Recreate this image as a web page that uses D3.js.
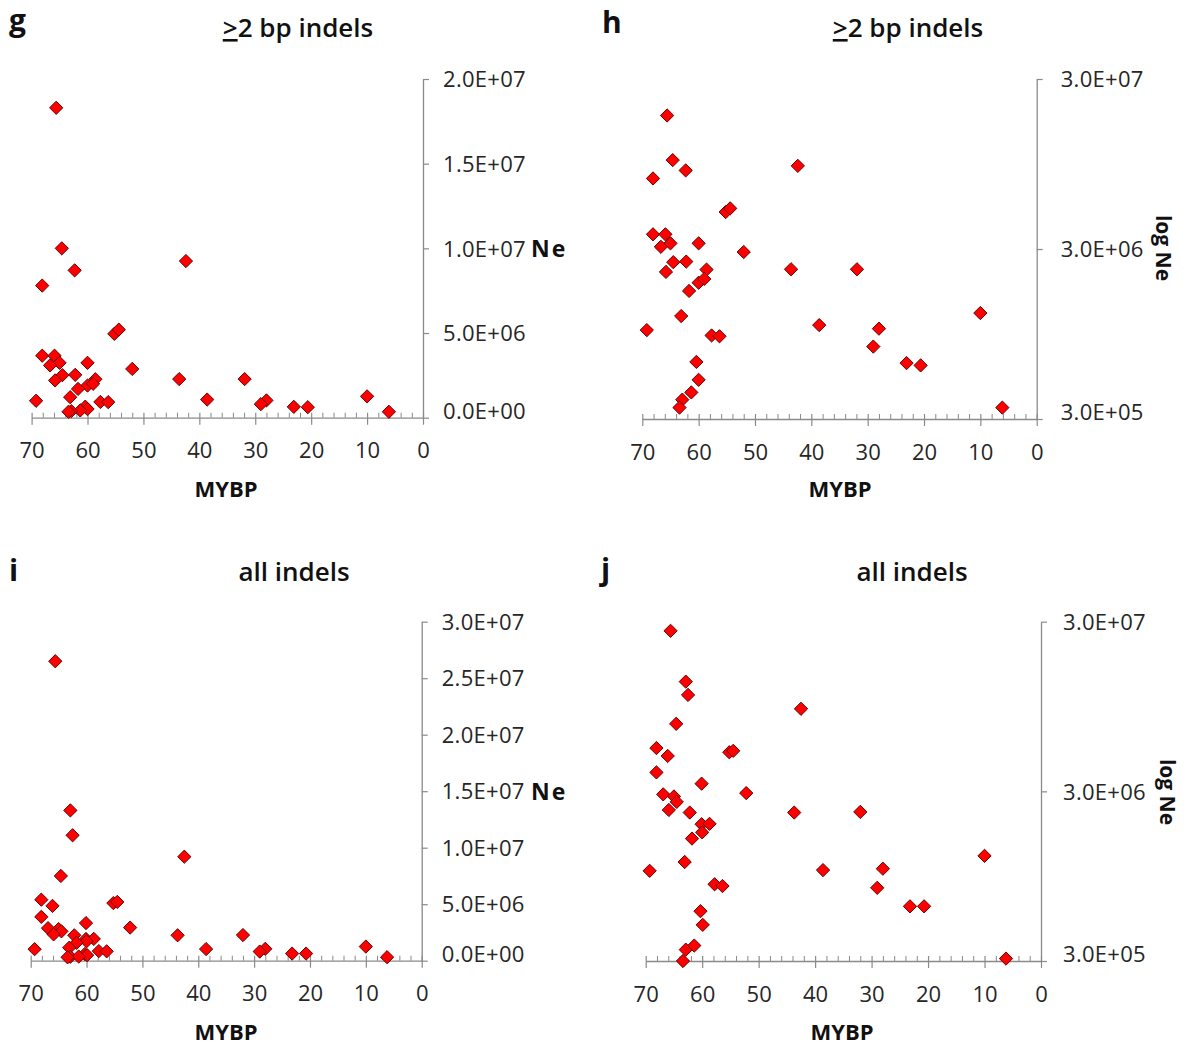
<!DOCTYPE html>
<html>
<head>
<meta charset="utf-8">
<script src="https://cdn.jsdelivr.net/npm/d3@7"></script>
<style>
  html, body { margin: 0; padding: 0; background: #fff; }
  svg { display: block; }
</style>
</head>
<body>
<svg id="chart" width="1186" height="1048"></svg>
<script>
// ---------------- DATA ----------------
// >=2 bp indels (panels g, h)
const MYBP_2BP = [65.6, 64.6, 62.3, 68.1, 42.4, 55.2, 54.4, 68.1, 65.9, 65.0,
                  66.7, 60.0, 52.0, 64.5, 62.2, 65.8, 58.6, 43.6, 31.9, 60.0,
                  59.0, 61.7, 63.1, 69.2, 10.0, 38.6, 28.0, 29.0, 57.7, 56.3,
                  23.1, 20.6, 60.4, 60.0, 61.3, 62.9, 63.4, 6.1];
const NE_2BP = [1.83e7, 1.00e7, 8.7e6, 7.8e6, 9.25e6, 4.95e6, 5.2e6, 3.66e6, 3.66e6, 3.24e6,
                3.09e6, 3.24e6, 2.88e6, 2.51e6, 2.53e6, 2.2e6, 2.27e6, 2.28e6, 2.28e6, 1.9e6,
                2.0e6, 1.7e6, 1.21e6, 1.0e6, 1.26e6, 1.07e6, 1.02e6, 0.8e6, 0.93e6, 0.92e6,
                0.64e6, 0.62e6, 0.65e6, 0.51e6, 0.43e6, 0.39e6, 0.35e6, 0.35e6];
// all indels (panels i, j)
const MYBP_ALL = [65.6, 62.9, 62.5, 42.5, 64.6, 68.1, 66.1, 55.2, 54.5, 68.1,
                  66.9, 65.0, 64.5, 60.1, 52.2, 65.9, 62.2, 43.7, 32.0, 60.1,
                  58.7, 60.0, 61.8, 63.1, 69.3, 10.0, 38.6, 28.0, 29.0, 57.8,
                  56.4, 23.2, 20.7, 60.3, 59.9, 62.9, 61.4, 63.4, 6.2];
const NE_ALL = [2.65e7, 1.33e7, 1.11e7, 9.2e6, 7.5e6, 5.4e6, 4.85e6, 5.1e6, 5.2e6, 3.88e6,
                2.88e6, 2.8e6, 2.6e6, 3.33e6, 2.93e6, 2.33e6, 2.25e6, 2.25e6, 2.27e6, 1.92e6,
                1.93e6, 1.72e6, 1.58e6, 1.15e6, 1.02e6, 1.25e6, 1.03e6, 1.05e6, 0.81e6, 0.85e6,
                0.83e6, 0.63e6, 0.63e6, 0.59e6, 0.49e6, 0.35e6, 0.37e6, 0.30e6, 0.31e6];

const X_TICKS = [70, 60, 50, 40, 30, 20, 10, 0];
const X_MINOR = [68, 66, 64, 62, 58, 56, 54, 52, 48, 46, 44, 42, 38, 36, 34, 32,
                 28, 26, 24, 22, 18, 16, 14, 12, 8, 6, 4, 2];
const Y_TICKS_G = [0, 5e6, 1e7, 1.5e7, 2e7];
const Y_TICKS_I = [0, 5e6, 1e7, 1.5e7, 2e7, 2.5e7, 3e7];
const Y_TICKS_LOG = [3e5, 3e6, 3e7];

// ---------------- LAYOUT ----------------
const panels = [
  { letter: "g", title: "2bp", x: MYBP_2BP, y: NE_2BP, type: "lin", domain: [0, 2e7], ticks: Y_TICKS_G,
    left: 31.6, right: 423, top: 79, bottom: 417.7, letterX: 9, letterY: 31, titleX: 298, titleY: 37,
    labelGap: 20, yLab: "Ne", yLabX: 531, yLabY: 249, xLabY: 458, mybpY: 497, mybpX: 226 },
  { letter: "h", title: "2bp", x: MYBP_2BP, y: NE_2BP, type: "log", domain: [3e5, 3e7], ticks: Y_TICKS_LOG,
    left: 642.3, right: 1036.7, top: 79, bottom: 419, letterX: 602, letterY: 33, titleX: 908, titleY: 37,
    labelGap: 24, yLab: "log Ne", yLabX: 1163, yLabY: 248, xLabY: 460, mybpY: 497, mybpX: 840 },
  { letter: "i", title: "all", x: MYBP_ALL, y: NE_ALL, type: "lin", domain: [0, 3e7], ticks: Y_TICKS_I,
    left: 30.7, right: 421.7, top: 621.7, bottom: 960.7, letterX: 9, letterY: 581, titleX: 294, titleY: 581,
    labelGap: 20, yLab: "Ne", yLabX: 531, yLabY: 792, xLabY: 1001, mybpY: 1040, mybpX: 226 },
  { letter: "j", title: "all", x: MYBP_ALL, y: NE_ALL, type: "log", domain: [3e5, 3e7], ticks: Y_TICKS_LOG,
    left: 645.7, right: 1041, top: 621.7, bottom: 961, letterX: 601, letterY: 580, titleX: 912, titleY: 581,
    labelGap: 22, yLab: "log Ne", yLabX: 1167, yLabY: 792, xLabY: 1002, mybpY: 1040, mybpX: 842 }
];

const FONT = "'Open Sans', 'Liberation Sans', sans-serif";
const AXIS_COLOR = "#8a8a8a";
const TEXT_COLOR = "#262626";

function fmtE(v) {
  if (v === 0) return "0.0E+00";
  const e = Math.floor(Math.log10(v) + 1e-9);
  const m = v / Math.pow(10, e);
  return m.toFixed(1) + "E+" + String(e).padStart(2, "0");
}

const svg = d3.select("#chart");
const diamond = d3.symbol().type(d3.symbolSquare).size(88);

panels.forEach(p => {
  const g = svg.append("g");
  const xs = d3.scaleLinear().domain([70, 0]).range([p.left, p.right]);
  const ys = (p.type === "log" ? d3.scaleLog() : d3.scaleLinear()).domain(p.domain).range([p.bottom, p.top]);

  // panel letter
  g.append("text").attr("x", p.letterX).attr("y", p.letterY)
    .attr("font-family", FONT).attr("font-weight", 700).attr("font-size", 30)
    .attr("fill", "#111").text(p.letter);

  // title
  const t = g.append("text").attr("x", p.titleX).attr("y", p.titleY).attr("text-anchor", "middle")
    .attr("font-family", FONT).attr("font-weight", 600).attr("font-size", 26).attr("fill", "#111");
  if (p.title === "2bp") {
    t.append("tspan").style("text-decoration", "underline").text(">");
    t.append("tspan").text("2 bp indels");
  } else {
    t.text("all indels");
  }

  // minor x ticks (inside, upward)
  const minor = g.append("g").attr("transform", `translate(0,${p.bottom})`)
    .call(d3.axisBottom(xs).tickValues(X_MINOR).tickSize(-5).tickFormat(""));
  minor.select(".domain").remove();
  minor.selectAll("line").attr("stroke", AXIS_COLOR).attr("stroke-width", 1);

  // major x axis (cross ticks)
  const xa = g.append("g").attr("transform", `translate(0,${p.bottom})`)
    .call(d3.axisBottom(xs).tickValues(X_TICKS).tickSize(7).tickSizeOuter(0).tickPadding(0));
  xa.attr("font-size", null).attr("font-family", null);
  xa.select(".domain").attr("stroke", AXIS_COLOR).attr("stroke-width", 1.3);
  xa.selectAll("line").attr("stroke", AXIS_COLOR).attr("stroke-width", 1.2).attr("y1", -5);
  xa.selectAll("text").attr("y", p.xLabY - p.bottom).attr("dy", null)
    .attr("font-family", FONT).attr("font-size", 22).attr("fill", TEXT_COLOR);

  // y axis on right
  const ya = g.append("g").attr("transform", `translate(${p.right},0)`)
    .call(d3.axisRight(ys).tickValues(p.ticks).tickSize(6).tickSizeOuter(0).tickPadding(0).tickFormat(fmtE));
  ya.attr("font-size", null).attr("font-family", null);
  ya.select(".domain").attr("stroke", AXIS_COLOR).attr("stroke-width", 1.3);
  ya.selectAll("line").attr("stroke", AXIS_COLOR).attr("stroke-width", 1.2);
  ya.selectAll("text").attr("x", p.labelGap).attr("dy", "0.35em")
    .attr("font-family", FONT).attr("font-size", 22).attr("letter-spacing", 0.3).attr("fill", TEXT_COLOR);
  ya.selectAll(".tick").filter(d => d === p.domain[0]).select("text").attr("y", -7);

  // y label
  if (p.type === "lin") {
    g.append("text").attr("x", p.yLabX).attr("y", p.yLabY).attr("dy", "0.35em")
      .attr("font-family", FONT).attr("font-weight", 700).attr("font-size", 23)
      .attr("letter-spacing", 2).attr("fill", "#111").text(p.yLab);
  } else {
    g.append("text").attr("transform", `translate(${p.yLabX},${p.yLabY}) rotate(90)`)
      .attr("text-anchor", "middle").attr("dy", "0.35em")
      .attr("font-family", FONT).attr("font-weight", 700).attr("font-size", 21)
      .attr("fill", "#111").text(p.yLab);
  }

  // x label
  g.append("text").attr("x", p.mybpX).attr("y", p.mybpY).attr("text-anchor", "middle")
    .attr("font-family", FONT).attr("font-weight", 700).attr("font-size", 22)
    .attr("fill", "#111").text("MYBP");

  // points
  const pts = p.x.map((v, i) => ({ x: v, y: p.y[i] }));
  g.append("g").selectAll("path").data(pts).join("path")
    .attr("d", diamond)
    .attr("transform", d => `translate(${xs(d.x)},${ys(d.y)}) rotate(45)`)
    .attr("fill", "#ff0000").attr("stroke", "#5a0000").attr("stroke-width", 0.9);
});
</script>
</body>
</html>
